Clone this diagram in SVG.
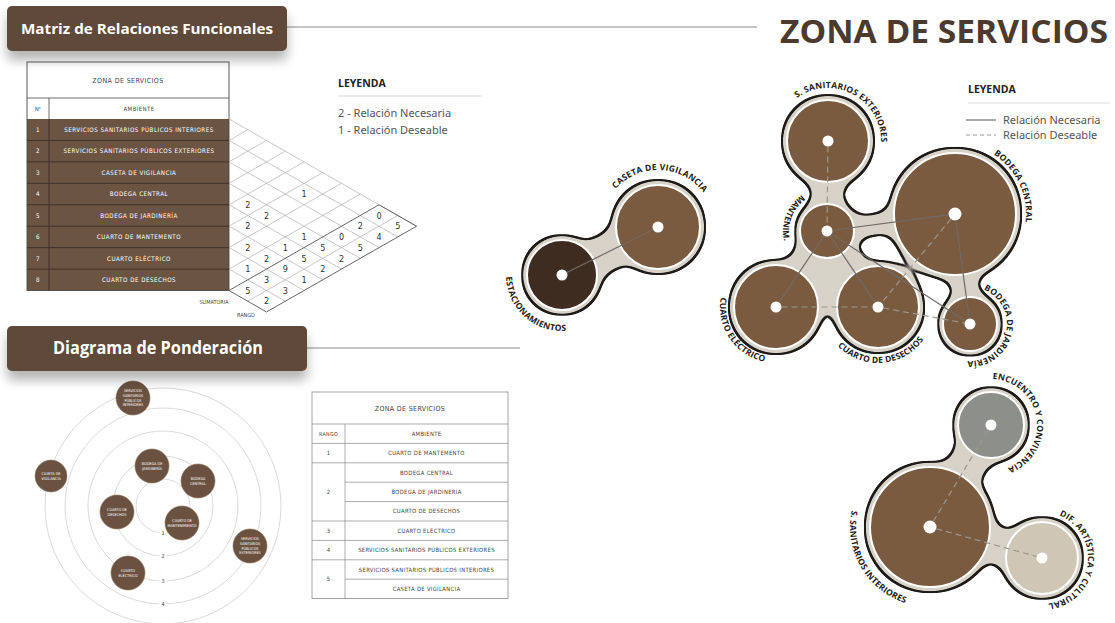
<svg xmlns="http://www.w3.org/2000/svg" width="1115" height="623" viewBox="0 0 1115 623">
<defs>
<style>
.hdr{font-family:"Open Sans","Noto Sans",sans-serif;font-weight:700;fill:#fff;text-anchor:middle}
.cad{font-family:"DejaVu Sans Condensed","DejaVu Sans",sans-serif;font-stretch:condensed}
.tw{fill:#fff;font-size:6.2px;text-anchor:middle;letter-spacing:0.5px}
.tg{fill:#444;text-anchor:middle}
.num{font-size:9px;fill:#333;text-anchor:middle}
.grid{stroke:#a3a3a3;stroke-width:0.6;fill:none}
.gridk{stroke:#555;stroke-width:0.9;fill:none}
.tl{stroke:#8a8a8a;stroke-width:0.7}
.ring{fill:none;stroke:#d0d0d0;stroke-width:0.8}
.pn{fill:#6b5240;stroke:#8a705c;stroke-width:0.6}
.pt{font-size:3.8px;fill:#fff;text-anchor:middle}
.hull{fill:#d7d2c8}
.neck{stroke:#d7d2c8;stroke-linecap:round}
.disc{stroke:#fff;stroke-width:2}
.dot{fill:#fff}
.nec{stroke:#6f6a64;stroke-width:1.2}
.des{stroke:#9d968d;stroke-width:1.2;stroke-dasharray:6 4}
.arc{font-family:"Open Sans","Noto Sans",sans-serif;font-weight:700;font-size:8.5px;fill:#1e1a17;letter-spacing:0.2px}
.leg{font-family:"Noto Sans","Open Sans",sans-serif;fill:#555;font-size:11px}
.legh{font-family:"Open Sans","Noto Sans",sans-serif;font-weight:700;fill:#222;font-size:10.5px}
.t2{letter-spacing:0.35px}
</style>
<filter id="sh" x="-10%" y="-30%" width="120%" height="190%">
<feGaussianBlur in="SourceAlpha" stdDeviation="6"/>
<feOffset dy="9" result="o"/>
<feComponentTransfer><feFuncA type="linear" slope="0.3"/></feComponentTransfer>
<feMerge><feMergeNode/><feMergeNode in="SourceGraphic"/></feMerge>
</filter>
<filter id="goo" x="-15%" y="-15%" width="130%" height="130%" color-interpolation-filters="sRGB">
<feGaussianBlur in="SourceGraphic" stdDeviation="8" result="b"/>
<feColorMatrix in="b" type="matrix" values="1 0 0 0 0  0 1 0 0 0  0 0 1 0 0  0 0 0 24 -12" result="g"/>
<feMorphology in="g" operator="dilate" radius="2" result="d"/>
<feFlood flood-color="#1f1b18" result="f"/>
<feComposite in="f" in2="d" operator="in" result="o"/>
<feMerge><feMergeNode in="o"/><feMergeNode in="g"/></feMerge>
</filter>
<path id="p-caseta" d="M615.64,188.86 A57,57 0 1 1 603.79,244.61"/>
<path id="p-estac" d="M506.03,276.95 A56,56 0 1 0 532.33,227.51"/>
<path id="p-ssext" d="M796.85,98.12 A53,53 0 1 1 775.29,146.54"/>
<path id="p-mant" d="M801.76,194.96 A44,44 0 1 0 845.59,191.12"/>
<path id="p-bcen" d="M993.67,154.45 A71,71 0 1 1 922.77,150.74"/>
<path id="p-jard" d="M983.86,289.69 A37,37 0 1 1 947.22,294.84"/>
<path id="p-desech" d="M837.72,345.90 A56,56 0 1 0 824.17,291.56"/>
<path id="p-elec" d="M720.85,297.28 A56,56 0 1 0 756.85,254.38"/>
<path id="p-enc" d="M992.61,379.03 A46,46 0 1 1 951.99,400.62"/>
<path id="p-ssint" d="M851.75,510.37 A80,80 0 1 0 905.28,450.91"/>
<path id="p-dif" d="M1059.23,515.35 A46,46 0 1 1 1013.68,521.75"/>
</defs>

<rect width="1115" height="623" fill="#fff"/>

<!-- Title -->
<line x1="287" y1="27" x2="757" y2="27" stroke="#8a8a8a" stroke-width="1"/>
<text x="780" y="43" font-family="Open Sans, Noto Sans, sans-serif" font-weight="700" font-size="33" fill="#4b3a2d" textLength="328" lengthAdjust="spacingAndGlyphs">ZONA DE SERVICIOS</text>

<!-- Matrix table -->
<g id="tabla-matriz">
<rect x="27" y="119" width="202" height="171.5" fill="#6b5442"/>
<rect x="27" y="62" width="202" height="228.5" fill="none" stroke="#4a4a4a" stroke-width="0.9"/>
<line x1="27" y1="98" x2="229" y2="98" stroke="#4a4a4a" stroke-width="0.8"/>
<line x1="49" y1="98" x2="49" y2="119" stroke="#4a4a4a" stroke-width="0.8"/>
<g stroke="#3b2e24" stroke-width="0.9">
<line x1="27" y1="140.44" x2="229" y2="140.44"/>
<line x1="27" y1="161.88" x2="229" y2="161.88"/>
<line x1="27" y1="183.32" x2="229" y2="183.32"/>
<line x1="27" y1="204.76" x2="229" y2="204.76"/>
<line x1="27" y1="226.2" x2="229" y2="226.2"/>
<line x1="27" y1="247.64" x2="229" y2="247.64"/>
<line x1="27" y1="269.08" x2="229" y2="269.08"/>
<line x1="49" y1="119" x2="49" y2="290.5"/>
</g>
<text x="128" y="82.5" class="cad tg" font-size="7" letter-spacing="0.4">ZONA DE SERVICIOS</text>
<text x="38" y="110.5" class="cad tg" font-size="5.5">N°</text>
<text x="139" y="110.5" class="cad tg" font-size="6" letter-spacing="0.4">AMBIENTE</text>
<g class="cad tw">
<text x="38" y="131.9">1</text><text x="139" y="131.9">SERVICIOS SANITARIOS PÚBLICOS INTERIORES</text>
<text x="38" y="153.4">2</text><text x="139" y="153.4">SERVICIOS SANITARIOS PÚBLICOS EXTERIORES</text>
<text x="38" y="174.8">3</text><text x="139" y="174.8">CASETA DE VIGILANCIA</text>
<text x="38" y="196.2">4</text><text x="139" y="196.2">BODEGA CENTRAL</text>
<text x="38" y="217.7">5</text><text x="139" y="217.7">BODEGA DE JARDINERÍA</text>
<text x="38" y="239.1">6</text><text x="139" y="239.1">CUARTO DE MANTEMENTO</text>
<text x="38" y="260.6">7</text><text x="139" y="260.6">CUARTO ELÉCTRICO</text>
<text x="38" y="282.0">8</text><text x="139" y="282.0">CUARTO DE DESECHOS</text>
</g>
</g>

<!-- Matrix triangle -->
<g id="matriz-triangulo">
<g class="grid">
<line x1="229" y1="119" x2="416.5" y2="226.2"/>
<line x1="229" y1="140.44" x2="397.75" y2="236.92"/>
<line x1="229" y1="161.88" x2="379" y2="247.64"/>
<line x1="229" y1="183.32" x2="360.25" y2="258.36"/>
<line x1="229" y1="204.76" x2="341.5" y2="269.08"/>
<line x1="229" y1="226.2" x2="322.75" y2="279.8"/>
<line x1="229" y1="247.64" x2="304" y2="290.52"/>
<line x1="229" y1="269.08" x2="285.25" y2="301.24"/>
<line x1="229" y1="140.44" x2="247.75" y2="129.72"/>
<line x1="229" y1="161.88" x2="266.5" y2="140.44"/>
<line x1="229" y1="183.32" x2="285.25" y2="151.16"/>
<line x1="229" y1="204.76" x2="304" y2="161.88"/>
<line x1="229" y1="226.2" x2="322.75" y2="172.6"/>
<line x1="229" y1="247.64" x2="341.5" y2="183.32"/>
<line x1="229" y1="269.08" x2="360.25" y2="194.04"/>
<line x1="247.75" y1="301.24" x2="397.75" y2="215.48"/>
</g>
<g class="gridk">
<line x1="229" y1="290.52" x2="379" y2="204.76"/>
<line x1="229" y1="290.52" x2="266.5" y2="311.96"/>
<line x1="266.5" y1="311.96" x2="416.5" y2="226.2"/>
<line x1="379" y1="204.76" x2="416.5" y2="226.2"/>
</g>
<g class="cad num">
<text x="304" y="197.2">1</text>
<text x="247.75" y="207.9">2</text>
<text x="266.5" y="218.7">2</text>
<text x="247.75" y="229.4">2</text>
<text x="247.75" y="250.8">2</text>
<text x="304" y="240.1">1</text>
<text x="285.25" y="250.8">1</text>
<text x="266.5" y="261.6">2</text>
<text x="247.75" y="272.3">1</text>
<text x="379" y="218.7">0</text>
<text x="360.25" y="229.4">2</text>
<text x="341.5" y="240.1">0</text>
<text x="322.75" y="250.8">5</text>
<text x="304" y="261.6">5</text>
<text x="285.25" y="272.3">9</text>
<text x="266.5" y="283">3</text>
<text x="247.75" y="293.7">5</text>
<text x="397.75" y="229.4">5</text>
<text x="379" y="240.1">4</text>
<text x="360.25" y="250.8">5</text>
<text x="341.5" y="261.6">2</text>
<text x="322.75" y="272.3">2</text>
<text x="304" y="283">1</text>
<text x="285.25" y="293.7">3</text>
<text x="266.5" y="304.4">2</text>
</g>
<text x="214" y="303.5" class="cad tg" font-size="5.5">SUMATORIA</text>
<text x="246" y="316.5" class="cad tg" font-size="5.5">RANGO</text>
</g>

<!-- Legend 1 -->
<g id="leyenda-matriz">
<text x="338" y="87" class="legh">LEYENDA</text>
<line x1="338" y1="96" x2="482" y2="96" stroke="#d5d5d5" stroke-width="1"/>
<text x="338" y="117" class="leg">2 - Relación Necesaria</text>
<text x="338" y="134" class="leg">1 - Relación Deseable</text>
</g>

<!-- Header 1 -->
<g id="hdr-matriz">
<rect x="7" y="6" width="280" height="45" rx="5" fill="#5e4a3a" filter="url(#sh)"/>
<text x="147" y="34" class="hdr" font-size="15" textLength="252" lengthAdjust="spacingAndGlyphs">Matriz de Relaciones Funcionales</text>
</g>

<!-- Ponderation diagram -->
<g id="anillos">
<circle cx="163" cy="506" r="27" class="ring"/>
<circle cx="163" cy="506" r="50" class="ring"/>
<circle cx="163" cy="506" r="75" class="ring"/>
<circle cx="163" cy="506" r="98" class="ring"/>
<circle cx="163" cy="506" r="118" class="ring"/>
<g fill="#fff"><rect x="159.5" y="529" width="7" height="8"/><rect x="159.5" y="552" width="7" height="8"/><rect x="159.5" y="577" width="7" height="8"/><rect x="159.5" y="600" width="7" height="8"/></g>
<g class="cad tg" font-size="5.5" fill="#888"><text x="163" y="535">1</text><text x="163" y="558">2</text><text x="163" y="583">3</text><text x="163" y="606">4</text></g>
</g>
<g id="p-ssint-node"><circle cx="133" cy="398" r="17" class="pn"/><g class="cad pt"><text x="133" y="392.4">SERVICIOS</text><text x="133" y="397">SANITARIOS</text><text x="133" y="401.6">PÚBLICOS</text><text x="133" y="406.2">INTERIORES</text></g></g>
<g id="p-caseta-node"><circle cx="51" cy="476" r="16" class="pn"/><g class="cad pt"><text x="51" y="475">CASETA DE</text><text x="51" y="479.6">VIGILANCIA</text></g></g>
<g id="p-jard-node"><circle cx="152" cy="466" r="17" class="pn"/><g class="cad pt"><text x="152" y="465">BODEGA DE</text><text x="152" y="469.6">JARDINERÍA</text></g></g>
<g id="p-bcen-node"><circle cx="198" cy="481" r="17" class="pn"/><g class="cad pt"><text x="198" y="480">BODEGA</text><text x="198" y="484.6">CENTRAL</text></g></g>
<g id="p-desech-node"><circle cx="117" cy="512" r="17" class="pn"/><g class="cad pt"><text x="117" y="511">CUARTO DE</text><text x="117" y="515.6">DESECHOS</text></g></g>
<g id="p-mant-node"><circle cx="182" cy="523" r="17" class="pn"/><g class="cad pt"><text x="182" y="522">CUARTO DE</text><text x="182" y="526.6">MANTENIMIENTO</text></g></g>
<g id="p-ssext-node"><circle cx="250" cy="546" r="17" class="pn"/><g class="cad pt"><text x="250" y="540.4">SERVICIOS</text><text x="250" y="545">SANITARIOS</text><text x="250" y="549.6">PÚBLICOS</text><text x="250" y="554.2">EXTERIORES</text></g></g>
<g id="p-elec-node"><circle cx="128" cy="573" r="17" class="pn"/><g class="cad pt"><text x="128" y="572">CUARTO</text><text x="128" y="576.6">ELÉCTRICO</text></g></g>

<!-- Header 2 -->
<line x1="307" y1="348" x2="520" y2="348" stroke="#8a8a8a" stroke-width="1"/>
<g id="hdr-ponderacion">
<rect x="7" y="326" width="300" height="45" rx="5" fill="#5e4a3a" filter="url(#sh)"/>
<text x="158" y="354" class="hdr" font-size="17" textLength="210" lengthAdjust="spacingAndGlyphs">Diagrama de Ponderación</text>
</g>

<!-- Ranking table -->
<g id="tabla-rango">
<rect x="312" y="392" width="196" height="206.6" fill="#fff" stroke="#8a8a8a" stroke-width="0.8"/>
<g class="tl">
<line x1="312" y1="424" x2="508" y2="424"/>
<line x1="312" y1="443.4" x2="508" y2="443.4"/>
<line x1="312" y1="462.8" x2="508" y2="462.8"/>
<line x1="345" y1="482.2" x2="508" y2="482.2"/>
<line x1="345" y1="501.6" x2="508" y2="501.6"/>
<line x1="312" y1="521" x2="508" y2="521"/>
<line x1="312" y1="540.4" x2="508" y2="540.4"/>
<line x1="312" y1="559.8" x2="508" y2="559.8"/>
<line x1="345" y1="579.2" x2="508" y2="579.2"/>
<line x1="345" y1="424" x2="345" y2="598.6"/>
</g>
<g class="cad tg t2" font-size="5.8">
<text x="410" y="411" font-size="7">ZONA DE SERVICIOS</text>
<text x="328.5" y="435.8" font-size="5.3">RANGO</text><text x="426.5" y="435.8">AMBIENTE</text>
<text x="328.5" y="455.2">1</text><text x="426.5" y="455.2">CUARTO DE MANTEMENTO</text>
<text x="426.5" y="474.6">BODEGA CENTRAL</text>
<text x="328.5" y="494">2</text><text x="426.5" y="494">BODEGA DE JARDINERÍA</text>
<text x="426.5" y="513.4">CUARTO DE DESECHOS</text>
<text x="328.5" y="532.8">3</text><text x="426.5" y="532.8">CUARTO ELÉCTRICO</text>
<text x="328.5" y="552.2">4</text><text x="426.5" y="552.2">SERVICIOS SANITARIOS PÚBLICOS EXTERIORES</text>
<text x="426.5" y="571.6">SERVICIOS SANITARIOS PÚBLICOS INTERIORES</text>
<text x="328.5" y="581.3">5</text><text x="426.5" y="591">CASETA DE VIGILANCIA</text>
</g>
</g>

<!-- Bubble hulls -->
<g id="hulls">
<g filter="url(#goo)">
<circle cx="658" cy="227" r="47" class="hull"/>
<circle cx="562" cy="275" r="40" class="hull"/>
<line x1="562" y1="275" x2="658" y2="227" class="neck" stroke-width="36"/>
</g>
<g filter="url(#goo)">
<circle cx="828" cy="141" r="46" class="hull"/>
<circle cx="827" cy="231" r="32" class="hull"/>
<circle cx="955" cy="214" r="66" class="hull"/>
<circle cx="776" cy="307" r="47" class="hull"/>
<circle cx="878" cy="307" r="46" class="hull"/>
<circle cx="970" cy="324" r="32" class="hull"/>
<polygon points="827,231 776,307 878,307" class="hull"/>
<line x1="828" y1="141" x2="827" y2="231" class="neck" stroke-width="30"/>
<line x1="827" y1="231" x2="955" y2="214" class="neck" stroke-width="20"/>
<line x1="827" y1="231" x2="776" y2="307" class="neck" stroke-width="30"/>
<line x1="827" y1="231" x2="878" y2="307" class="neck" stroke-width="30"/>
<line x1="955" y1="214" x2="970" y2="324" class="neck" stroke-width="24"/>
</g>
<g filter="url(#goo)">
<circle cx="991" cy="425" r="38" class="hull"/>
<circle cx="930" cy="527" r="65" class="hull"/>
<circle cx="1042" cy="558" r="41" class="hull"/>
<line x1="930" y1="527" x2="991" y2="425" class="neck" stroke-width="36"/>
<line x1="930" y1="527" x2="1042" y2="558" class="neck" stroke-width="34"/>
</g>
</g>

<!-- Bubble nodes -->
<g id="n-caseta"><circle cx="658" cy="227" r="42" fill="#7b5b3f" class="disc"/><circle cx="658" cy="227" r="5.5" class="dot"/><text class="arc"><textPath href="#p-caseta">CASETA DE VIGILANCIA</textPath></text></g>
<g id="n-estac"><circle cx="562" cy="275" r="35" fill="#3e2c20" class="disc"/><circle cx="562" cy="275" r="5.5" class="dot"/><text class="arc" letter-spacing="0.5"><textPath href="#p-estac">ESTACIONAMIENTOS</textPath></text></g>
<g id="n-ssext"><circle cx="828" cy="141" r="41" fill="#7b5b3f" class="disc"/><circle cx="828" cy="141" r="5.5" class="dot"/><text class="arc"><textPath href="#p-ssext">S. SANITARIOS EXTERIORES</textPath></text></g>
<g id="n-mant"><circle cx="827" cy="231" r="27" fill="#7b5b3f" class="disc"/><circle cx="827" cy="231" r="5.5" class="dot"/><text class="arc" letter-spacing="1.6"><textPath href="#p-mant">MANTENIM.</textPath></text></g>
<g id="n-bcen"><circle cx="955" cy="214" r="61" fill="#7b5b3f" class="disc"/><circle cx="955" cy="214" r="6.5" class="dot"/><text class="arc"><textPath href="#p-bcen">BODEGA CENTRAL</textPath></text></g>
<g id="n-elec"><circle cx="776" cy="307" r="42" fill="#7b5b3f" class="disc"/><circle cx="776" cy="307" r="5.5" class="dot"/><text class="arc"><textPath href="#p-elec">CUARTO ELÉCTRICO</textPath></text></g>
<g id="n-desech"><circle cx="878" cy="307" r="41" fill="#7b5b3f" class="disc"/><circle cx="878" cy="307" r="5.5" class="dot"/><text class="arc"><textPath href="#p-desech">CUARTO DE DESECHOS</textPath></text></g>
<g id="n-jard"><circle cx="970" cy="324" r="27" fill="#7b5b3f" class="disc"/><circle cx="970" cy="324" r="5.5" class="dot"/><text class="arc"><textPath href="#p-jard">BODEGA DE JARDINERÍA</textPath></text></g>
<g id="n-enc"><circle cx="991" cy="425" r="33" fill="#8d9088" class="disc"/><circle cx="991" cy="425" r="5.5" class="dot"/><text class="arc" font-size="8"><textPath href="#p-enc">ENCUENTRO Y CONVIVENCIA</textPath></text></g>
<g id="n-ssint"><circle cx="930" cy="527" r="60" fill="#7b5b3f" class="disc"/><circle cx="930" cy="527" r="6.5" class="dot"/><text class="arc"><textPath href="#p-ssint">S. SANITARIOS INTERIORES</textPath></text></g>
<g id="n-dif"><circle cx="1042" cy="558" r="36" fill="#cfc6b6" class="disc"/><circle cx="1042" cy="558" r="5.5" class="dot"/><text class="arc" font-size="8"><textPath href="#p-dif">DIF. ARTÍSTICA Y CULTURAL</textPath></text></g>

<!-- Connectors -->
<g id="connectors">
<line x1="566.92" y1="272.54" x2="653.08" y2="229.46" class="nec"/>
<line x1="827.94" y1="146.5" x2="827.06" y2="225.5" class="des"/>
<line x1="832.45" y1="230.28" x2="948.56" y2="214.86" class="nec"/>
<line x1="823.94" y1="235.57" x2="779.06" y2="302.43" class="nec"/>
<line x1="830.06" y1="235.57" x2="874.94" y2="302.43" class="nec"/>
<line x1="831.61" y1="234" x2="965.39" y2="321" class="nec"/>
<line x1="955.88" y1="220.44" x2="969.26" y2="318.55" class="nec"/>
<line x1="950.85" y1="219.01" x2="881.51" y2="302.76" class="des"/>
<line x1="781.5" y1="307" x2="872.5" y2="307" class="des"/>
<line x1="883.41" y1="308" x2="964.59" y2="323" class="des"/>
<line x1="933.34" y1="521.42" x2="988.18" y2="429.72" class="des"/>
<line x1="936.26" y1="528.73" x2="1036.7" y2="556.53" class="des"/>
</g>

<!-- Legend 2 -->
<g id="leyenda-burbujas">
<text x="968" y="93" class="legh">LEYENDA</text>
<line x1="968" y1="103" x2="1110" y2="103" stroke="#dcdcdc" stroke-width="1"/>
<line x1="966" y1="120" x2="996" y2="120" stroke="#555" stroke-width="1"/>
<text x="1003" y="124" class="leg">Relación Necesaria</text>
<line x1="966" y1="135" x2="996" y2="135" stroke="#9a9a9a" stroke-width="1" stroke-dasharray="4 3"/>
<text x="1003" y="139" class="leg">Relación Deseable</text>
</g>
</svg>
